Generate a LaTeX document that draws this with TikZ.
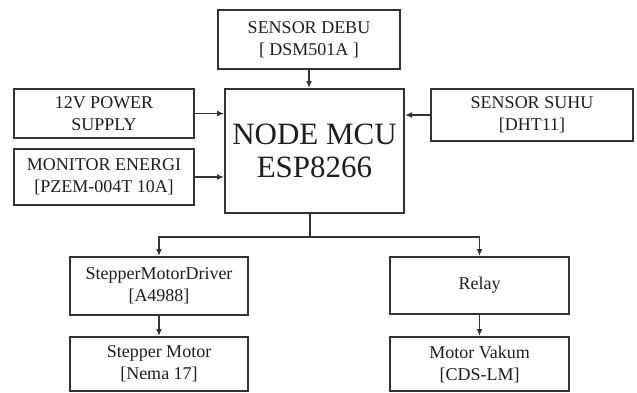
\documentclass[tikz,border=0pt]{standalone}
\usepackage{fontspec}
\setmainfont{Liberation Serif}
\usetikzlibrary{calc,arrows.meta}
\definecolor{linegray}{HTML}{333333}
\definecolor{textgray}{HTML}{1E1E1E}
\tikzset{
  block/.style={draw=linegray, line width=2pt, fill=white, align=center,
    text=textgray, inner sep=0pt, font=\fontsize{18}{22}\selectfont},
  link/.style={draw=linegray, line width=1.8pt, -{Latex[length=7pt,width=6pt]}}
}
\begin{document}
\begin{tikzpicture}[x=1pt, y=-1pt]
  \useasboundingbox[fill=white] (0,0) rectangle (637,392);
  % inputs
  \node[block, minimum width=182pt, minimum height=59pt] (debu) at (309,39.5) {SENSOR DEBU\\{[} DSM501A ]};
  \node[block, minimum width=179pt, minimum height=124pt, font=\fontsize{31}{33}\selectfont] (mcu) at (314.5,151) {NODE MCU\\ESP8266};
  \node[block, minimum width=180pt, minimum height=49pt] (power) at (104,113.5) {12V POWER\\SUPPLY};
  \node[block, minimum width=180pt, minimum height=56pt] (energi) at (104,177) {MONITOR ENERGI\\{[}PZEM-004T 10A]};
  \node[block, minimum width=202pt, minimum height=52pt] (suhu) at (532,115) {SENSOR SUHU\\{[}DHT11]};
  % outputs
  \node[block, minimum width=178pt, minimum height=58pt] (driver) at (159,286) {StepperMotorDriver\\{[}A4988]};
  \node[block, minimum width=178pt, minimum height=54pt] (stepper) at (159,364) {Stepper Motor\\{[}Nema 17]};
  \node[block, minimum width=179pt, minimum height=57pt] (relay) at (479.5,285.5) {Relay};
  \node[block, minimum width=179pt, minimum height=54pt] (vakum) at (479.5,364) {Motor Vakum\\{[}CDS-LM]};
  \coordinate (split) at (310,237);
  % connectors
  \draw[link] (debu.south) -- (debu.south |- mcu.north);
  \draw[link] (power.east) -- (power.east -| mcu.west);
  \draw[link] (energi.east) -- (energi.east -| mcu.west);
  \draw[link] (suhu.west) -- (suhu.west -| mcu.east);
  \draw[draw=linegray, line width=1.8pt] (split |- mcu.south) -- (split);
  \draw[link] (split) -| (driver.north);
  \draw[link] (split) -| (relay.north);
  \draw[link] (driver.south) -- (stepper.north);
  \draw[link] (relay.south) -- (vakum.north);
\end{tikzpicture}
\end{document}
